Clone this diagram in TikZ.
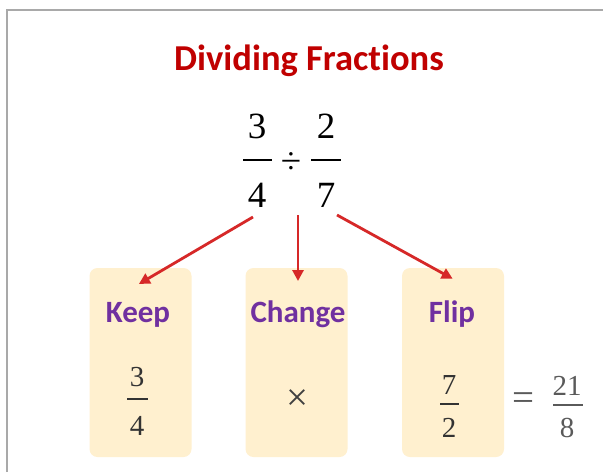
\documentclass[tikz,border=0pt]{standalone}
\usepackage{fontspec}
\setmainfont{Liberation Serif}
\newfontfamily\calib[Ligatures=NoCommon]{Carlito}
\usetikzlibrary{arrows.meta,positioning}
\definecolor{titlered}{HTML}{C00000}
\definecolor{labelpurple}{HTML}{7030A0}
\definecolor{arrowred}{HTML}{D62828}
\definecolor{cardfill}{HTML}{FFF0CF}
\definecolor{framegray}{HTML}{A9A9A9}
\definecolor{resultgray}{HTML}{5A5A5A}

\begin{document}
\begin{tikzpicture}[x=1pt,y=-1pt,
  head/.style={font=\calib\bfseries\fontsize{36.5}{44}\selectfont,
    text=titlered,anchor=base,inner sep=0pt},
  word/.style={font=\calib\bfseries\fontsize{31}{37}\selectfont,
    text=labelpurple,anchor=base,inner sep=0pt},
  bigdig/.style={font=\fontsize{37}{44}\selectfont,anchor=base,inner sep=0pt},
  dig/.style={font=\fontsize{29}{35}\selectfont,text=black!80,
    anchor=base,inner sep=0pt},
  sign/.style={font=\fontsize{39}{44}\selectfont,anchor=center,inner sep=0pt},
  card/.style={fill=cardfill,rounded corners=8pt,minimum width=102pt,
    minimum height=189pt,inner sep=0pt},
  bar/.style={line width=1.8pt},
  arr/.style={-{Triangle[length=11pt,width=11pt]},arrowred,
    line width=2.8pt}
]
  \useasboundingbox (0,0) rectangle (603,472);
  \fill[white] (0,0) rectangle (603,472);
  \draw[framegray,line width=2pt] (7,472) -- (7,10) -- (603,10);
  % Title
  \node[head] (title) at (309,70) {Dividing Fractions};
  % Problem
  \node[bigdig] (n1) at (257,138) {3};
  \node[bigdig] (d1) at (257,207) {4};
  \node[bigdig,anchor=center] (div) at (291,163) {÷};
  \node[bigdig] (n2) at (326,138) {2};
  \node[bigdig] (d2) at (326,207) {7};
  \draw[bar] (243,160) -- (272,160);
  \draw[bar] (311,160) -- (341,160);
  % Cards
  \node[card] (keepbox)   at (140.5,362.5) {};
  \node[card] (changebox) at (296.5,362.5) {};
  \node[card] (flipbox)   at (453,362.5)   {};
  \node[word] (keep)   at (138,322) {Keep};
  \node[word] (change) at (298,322) {Change};
  \node[word] (flip)   at (452,322) {Flip};
  % Keep 3/4
  \node[dig] (n3) at (137,386) {3};
  \node[dig] (d3) at (137,435) {4};
  \draw[bar,black!80] (127,399) -- (148,399);
  % Change
  \node[sign,text=black!75] (times) at (297,400) {×};
  % Flip 7/2
  \node[dig] (n4) at (449,394) {7};
  \node[dig] (d4) at (449,437) {2};
  \draw[bar,black!80] (440,404) -- (459,404);
  % Result
  \node[sign,text=resultgray] (eq) at (523,402) {=};
  \node[dig,text=resultgray] (n5) at (567,395) {21};
  \node[dig,text=resultgray] (d5) at (567,437) {8};
  \draw[bar,resultgray] (553,405) -- (583,405);
  % Arrows
  \coordinate (tail1) at (253,217);
  \coordinate (tail2) at (298,215);
  \coordinate (tail3) at (337,215);
  \draw[arr,shorten >=35pt] (tail1) -- ([xshift=3pt]keep.north west);
  \draw[arr,shorten >=19pt] (tail2) -- (change.north);
  \draw[arr,shorten >=44pt] (tail3) -- ([xshift=16pt]flip.north east);
\end{tikzpicture}
\end{document}
